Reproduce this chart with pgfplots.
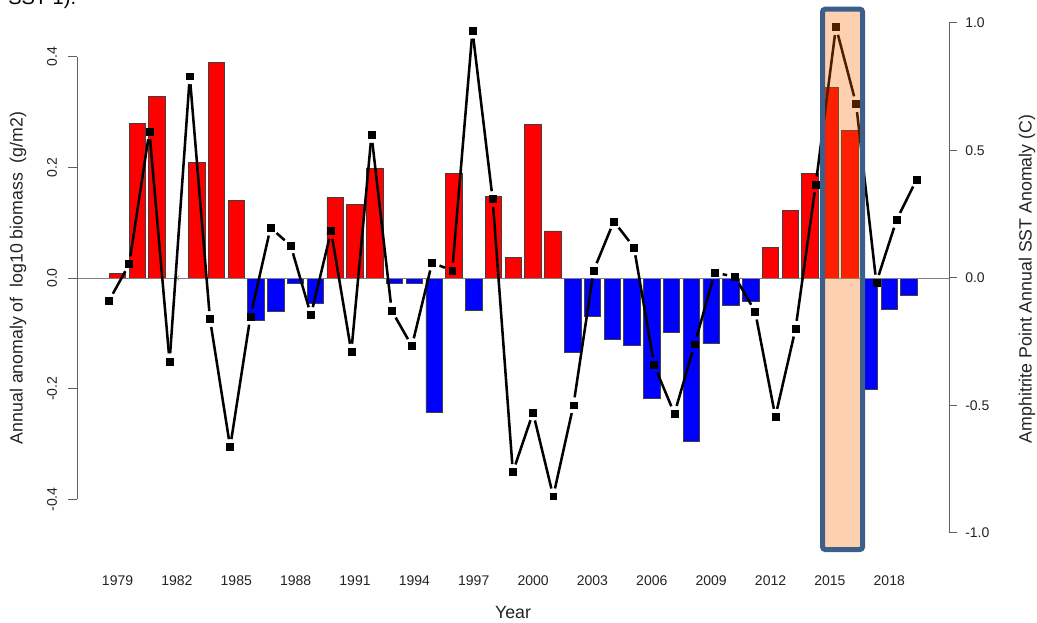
\documentclass[border=0pt]{standalone}
\usepackage{pgfplots}
\pgfplotsset{compat=1.18}
\usepackage{pgfplotstable}
\usepackage{fontspec}
\setmainfont{Liberation Sans}

\definecolor{barred}{RGB}{255,0,0}
\definecolor{barblue}{RGB}{0,0,255}
\definecolor{axisgray}{RGB}{95,95,95}
\definecolor{txt}{RGB}{35,35,35}
\definecolor{hlfill}{RGB}{248,103,0}
\definecolor{hledge}{RGB}{60,94,138}

% biomass anomaly, positive years
\pgfplotstableread{
year val
1979 0.009
1980 0.280
1981 0.328
1983 0.208
1984 0.390
1985 0.140
1990 0.146
1991 0.133
1992 0.198
1996 0.189
1998 0.147
1999 0.037
2000 0.278
2001 0.085
2012 0.056
2013 0.122
2014 0.189
2015 0.345
2016 0.267
}\biopos

% biomass anomaly, negative years
\pgfplotstableread{
year val
1986 -0.077
1987 -0.061
1988 -0.009
1989 -0.045
1993 -0.009
1994 -0.009
1995 -0.242
1997 -0.058
2002 -0.135
2003 -0.070
2004 -0.111
2005 -0.122
2006 -0.217
2007 -0.098
2008 -0.296
2009 -0.118
2010 -0.050
2011 -0.042
2017 -0.201
2018 -0.056
2019 -0.032
}\bioneg

% Amphitrite Point SST anomaly, one row per year 1979..2019 (i = 0..40)
\pgfplotstableread{
i sst
0 -0.089
1 0.054
2 0.575
3 -0.327
4 0.791
5 -0.161
6 -0.663
7 -0.152
8 0.197
9 0.127
10 -0.145
11 0.184
12 -0.289
13 0.561
14 -0.128
15 -0.267
16 0.060
17 0.029
18 0.970
19 0.309
20 -0.761
21 -0.528
22 -0.856
23 -0.499
24 0.029
25 0.222
26 0.120
27 -0.342
28 -0.532
29 -0.260
30 0.021
31 0.005
32 -0.132
33 -0.544
34 -0.199
35 0.367
36 0.984
37 0.682
38 -0.018
39 0.227
40 0.387
}\sst

\begin{document}
\begin{tikzpicture}[x=1pt,y=1pt]
\path[use as bounding box] (0,0) rectangle (777.75,467.25);

% clipped caption text from the page above
\node[anchor=base west, inner sep=0pt, font=\fontsize{15}{18}\selectfont, text=black] at (6,463.5) {SST-1).};

\begin{axis}[
    at={(57.75pt,47.25pt)}, anchor=south west,
    width=654pt, height=420pt, scale only axis,
    xmin=1976.95, xmax=2021.02,
    ymin=-0.5095, ymax=0.5023,
    axis x line*=bottom, axis y line*=left,
    x axis line style={draw=none}, y axis line style={draw=none},
    xtick={1979,1982,1985,1988,1991,1994,1997,2000,2003,2006,2009,2012,2015,2018},
    xticklabels={1979,1982,1985,1988,1991,1994,1997,2000,2003,2006,2009,2012,2015,2018},
    xtick style={draw=none},
    ytick={-0.4,-0.2,0,0.2,0.4},
    yticklabels={-0.4,-0.2,0.0,0.2,0.4},
    ytick style={axisgray, line width=0.75pt},
    tick align=outside, major tick length=6.75pt,
    ticklabel style={font=\fontsize{10.5}{12}\selectfont, text=txt, inner sep=0pt},
    yticklabel style={rotate=90, anchor=south},
    yticklabel shift=8pt,
    xticklabel style={anchor=north},
    xticklabel shift=4.5pt,
    clip=false,
]
\addplot[ybar, bar width=0.833, bar shift=0pt, fill=barred, draw=black!75, line width=0.6pt]
    table[x=year, y=val] {\biopos};
\addplot[ybar, bar width=0.833, bar shift=0pt, fill=barblue, draw=black!75, line width=0.6pt]
    table[x=year, y=val] {\bioneg};
\addplot[only marks, mark=x, mark size=2.5pt, gray, line width=0.5pt] coordinates {(1982,0)};
\draw[gray, line width=0.75pt] (axis cs:1976.95,0) -- (axis cs:2021.02,0);
\draw[axisgray, line width=0.75pt] (axis cs:1976.95,-0.4) -- (axis cs:1976.95,0.4);
\end{axis}

\begin{axis}[
    at={(57.75pt,47.25pt)}, anchor=south west,
    width=654pt, height=420pt, scale only axis,
    xmin=-1.585, xmax=41.60,
    ymin=-1.1059, ymax=1.0902,
    axis x line=none, axis y line*=right,
    y axis line style={draw=none},
    ytick={-1,-0.5,0,0.5,1},
    yticklabels={-1.0,-0.5,0.0,0.5,1.0},
    ytick style={axisgray, line width=0.75pt},
    tick align=outside, major tick length=6pt,
    ticklabel style={font=\fontsize{10.5}{12}\selectfont, text=txt, inner sep=0pt},
    yticklabel style={anchor=west},
    yticklabel shift=6pt,
    clip=false,
]
\draw[axisgray, line width=0.75pt] (axis cs:41.60,-1) -- (axis cs:41.60,1);
% type="b" look: each segment stops short of its points
\pgfplotsinvokeforeach{0,...,39}{
  \addplot[black, line width=1.9pt, shorten >=6pt, shorten <=6pt,
    x filter/.expression={(\coordindex<#1 || \coordindex>#1+1) ? nan : x}]
    table[x=i, y=sst] {\sst};
}
\addplot[only marks, mark=square*, mark size=2.6pt, black] table[x=i, y=sst] {\sst};
\end{axis}

% 2015-2016 highlight
\fill[hlfill, fill opacity=0.31, rounded corners=2pt] (616.9,55.1) rectangle (646.9,460.35);
\draw[hledge, line width=3.75pt, rounded corners=2pt] (616.9,55.1) rectangle (646.9,460.35);

\node[rotate=90, font=\fontsize{13.3}{16}\selectfont, text=txt] at (13.5,258.75)
    {Annual anomaly of\ \ log10 biomass\ \ (g/m2)};
\node[rotate=90, font=\fontsize{13.3}{16}\selectfont, text=txt] at (770.25,258)
    {Amphitrite Point Annual SST Anomaly (C)};
\node[anchor=base, font=\fontsize{13.3}{16}\selectfont, text=txt] at (384.75,3) {Year};
\end{tikzpicture}
\end{document}
